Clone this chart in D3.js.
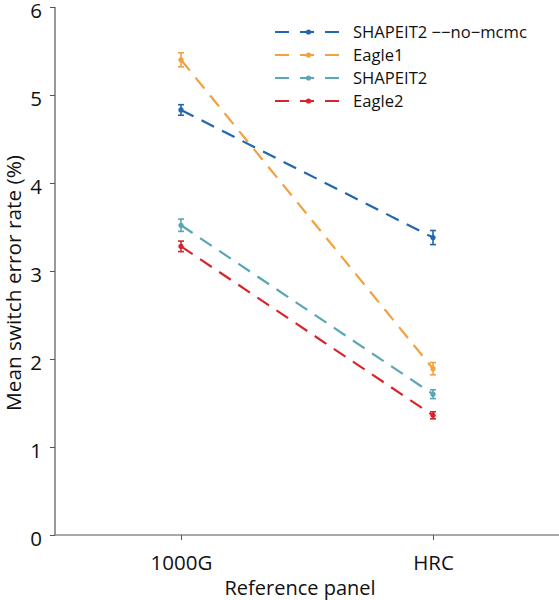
<!DOCTYPE html>
<html><head><meta charset="utf-8">
<script src="https://cdn.jsdelivr.net/npm/d3@7"></script>
<style>body{margin:0;background:#fff;} text{font-family:"Open Sans",sans-serif;}</style>
</head><body>
<svg id="chart" width="559" height="600"></svg>
<script>
const categories = ["1000G", "HRC"];
const seriesNames = ["SHAPEIT2 \u2212\u2212no\u2212mcmc", "Eagle1", "SHAPEIT2", "Eagle2"];
const seriesColors = ["#2266ae", "#f3a040", "#5aa6b5", "#d6262b"];
const meanShapeitNoMcmc = [4.83, 3.38];
const meanEagle1 = [5.40, 1.89];
const meanShapeit = [3.52, 1.60];
const meanEagle2 = [3.28, 1.36];
const errShapeitNoMcmc = [0.06, 0.08];
const errEagle1 = [0.08, 0.07];
const errShapeit = [0.07, 0.05];
const errEagle2 = [0.06, 0.04];
const yTicks = [0, 1, 2, 3, 4, 5, 6];

const means = [meanShapeitNoMcmc, meanEagle1, meanShapeit, meanEagle2];
const errs = [errShapeitNoMcmc, errEagle1, errShapeit, errEagle2];

const svg = d3.select("#chart");
const x = d3.scaleLinear().domain([-0.5, 1.5]).range([55, 559]);
const y = d3.scaleLinear().domain([0, 6]).range([535, 7]);
const axisColor = "#555";
const fs = 20.5;

// y axis
const yAxis = svg.append("g").attr("transform", "translate(55,0)")
  .call(d3.axisLeft(y).tickValues(yTicks).tickFormat(d3.format("d")).tickSize(5).tickPadding(8));
yAxis.select(".domain").attr("stroke", axisColor).attr("stroke-width", 1.2).attr("d", "M0," + y(0) + "V" + y(6));
yAxis.selectAll(".tick line").attr("stroke", axisColor);
yAxis.selectAll(".tick text").attr("font-size", fs).attr("fill", "#111").attr("font-family", "Open Sans")
  .attr("dy", "0.5em");

// x axis
const xAxis = svg.append("g").attr("transform", "translate(0,535)")
  .call(d3.axisBottom(x).tickValues([0, 1]).tickFormat(i => categories[i]).tickSize(5));
xAxis.select(".domain").attr("stroke", axisColor).attr("stroke-width", 1.2).attr("d", "M55,0H559");
xAxis.selectAll(".tick line").attr("stroke", axisColor);
xAxis.selectAll(".tick text").attr("font-size", fs).attr("fill", "#111").attr("font-family", "Open Sans")
  .attr("y", 35).attr("dy", 0);

svg.append("text").attr("x", 300).attr("y", 595).attr("text-anchor", "middle")
  .attr("font-size", 20).attr("fill", "#111").text("Reference panel");
svg.append("text").attr("transform", "translate(21,283) rotate(-90)").attr("text-anchor", "middle")
  .attr("font-size", 20.8).attr("fill", "#111").text("Mean switch error rate (%)");

const line = d3.line().x((d, i) => x(i)).y(d => y(d));

means.forEach((m, s) => {
  const g = svg.append("g");
  g.append("path").attr("d", line(m)).attr("fill", "none").attr("stroke", seriesColors[s])
    .attr("stroke-width", 2.2).attr("stroke-dasharray", "14,9");
  m.forEach((v, i) => {
    const e = errs[s][i];
    g.append("line").attr("x1", x(i)).attr("x2", x(i)).attr("y1", y(v - e)).attr("y2", y(v + e))
      .attr("stroke", seriesColors[s]).attr("stroke-width", 1.6);
    [v - e, v + e].forEach(c => g.append("line").attr("x1", x(i) - 3).attr("x2", x(i) + 3)
      .attr("y1", y(c)).attr("y2", y(c)).attr("stroke", seriesColors[s]).attr("stroke-width", 1.6));
    g.append("circle").attr("cx", x(i)).attr("cy", y(v)).attr("r", 2.6).attr("fill", seriesColors[s]);
  });
});

// legend
const leg = svg.append("g");
seriesNames.forEach((name, s) => {
  const yy = 32 + s * 23;
  leg.append("line").attr("x1", 275).attr("x2", 342).attr("y1", yy).attr("y2", yy)
    .attr("stroke", seriesColors[s]).attr("stroke-width", 2.2).attr("stroke-dasharray", "14,11");
  leg.append("circle").attr("cx", 308.5).attr("cy", yy).attr("r", 2.6).attr("fill", seriesColors[s]);
  leg.append("text").attr("x", 353).attr("y", yy).attr("dy", "0.35em").attr("font-size", 16.6)
    .attr("fill", "#111").text(name);
});
</script>
</body></html>
